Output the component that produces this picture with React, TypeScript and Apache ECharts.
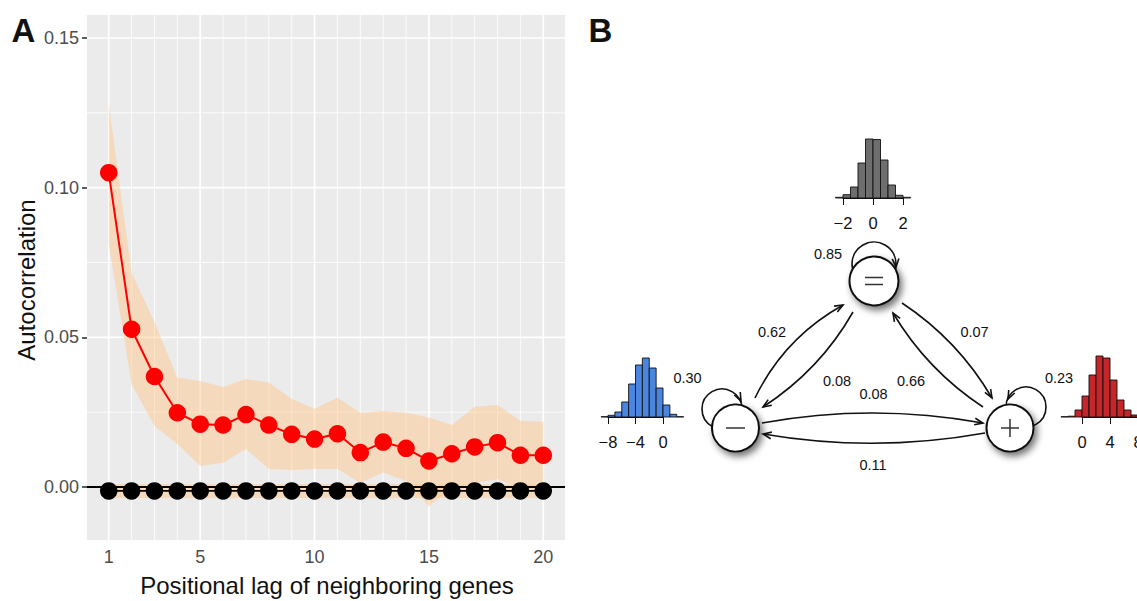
import React, { useEffect, useRef } from "react";
import * as echarts from "echarts";

// ---------- Panel A data ----------
const lags = [1, 2, 3, 4, 5, 6, 7, 8, 9, 10, 11, 12, 13, 14, 15, 16, 17, 18, 19, 20];
const redAutocorr = [0.105, 0.0527, 0.0369, 0.0248, 0.021, 0.0207, 0.0242, 0.0207, 0.0176, 0.016, 0.0178, 0.0115, 0.015, 0.0129, 0.0087, 0.0111, 0.0134, 0.0148, 0.0106, 0.0106];
const redUpper = [0.128, 0.0716, 0.055, 0.0365, 0.0354, 0.0334, 0.0361, 0.0349, 0.0294, 0.0261, 0.0298, 0.0248, 0.0254, 0.0248, 0.0232, 0.0207, 0.0268, 0.0274, 0.0221, 0.0218];
const redLower = [0.0813, 0.0344, 0.0204, 0.0144, 0.007, 0.0081, 0.0127, 0.006, 0.0057, 0.006, 0.006, 0.0014, 0.0048, 0.002, -0.0064, -0.0002, 0.0014, 0.0026, -0.0002, 0.0];
const blackAutocorr = [-0.0013, -0.0013, -0.0013, -0.0013, -0.0013, -0.0013, -0.0013, -0.0013, -0.0013, -0.0013, -0.0013, -0.0013, -0.0013, -0.0013, -0.0013, -0.0013, -0.0013, -0.0013, -0.0013, -0.0013];
const blackUpper = [0.001, 0.001, 0.001, 0.001, 0.001, 0.001, 0.001, 0.001, 0.001, 0.001, 0.001, 0.001, 0.001, 0.001, 0.001, 0.001, 0.001, 0.001, 0.001, 0.001];
const blackLower = [-0.0037, -0.0037, -0.0037, -0.0037, -0.0037, -0.0037, -0.0037, -0.0037, -0.0037, -0.0037, -0.0037, -0.0037, -0.0037, -0.0037, -0.0037, -0.0037, -0.0037, -0.0037, -0.0037, -0.0037];
const yTicks = [0, 0.05, 0.1, 0.15];
const yMinor = [0.025, 0.075, 0.125];
const xTicks = [1, 5, 10, 15, 20];
const xMinor = [2, 3, 4, 6, 7, 8, 9, 11, 12, 13, 14, 16, 17, 18, 19];

// ---------- Panel B data ----------
const grayEdges = [-2.5, -2, -1.5, -1, -0.5, 0, 0.5, 1, 1.5, 2, 2.5];
const grayFreq = [0.7, 3.3, 11, 35, 59, 58.5, 38, 13, 2.7, 0.7];
const grayTicks = [-2, 0, 2];
const blueEdges = [-9, -8, -7, -6, -5, -4, -3, -2, -1, 0, 1, 2, 3];
const blueFreq = [0.3, 1.7, 5, 15, 33, 52, 59, 49, 29, 12, 2.7, 0.3];
const blueTicks = [-8, -4, 0];
const redEdges = [-3, -2, -1, 0, 1, 2, 3, 4, 5, 6, 7, 8, 9];
const redFreq = [0.3, 0.8, 7, 21, 42, 61, 59, 37, 17, 7, 2, 0.3];
const redTicks = [0, 4, 8];
const selfLoops = [0.85, 0.3, 0.23]; // =, −, +
const transitions = ["0.62", "0.08", "0.07", "0.66", "0.08", "0.11"]; // −→=, =→−, =→+, +→=, −→+, +→−

const FONT = "'Liberation Sans', Arial, Helvetica, sans-serif";
const RIBBON = "rgba(255, 198, 135, 0.47)";

function head(tx: number, ty: number, dx: number, dy: number, L = 9, a = 0.38) {
  const n = Math.hypot(dx, dy);
  const bx = -dx / n, by = -dy / n;
  const c = Math.cos(a), s = Math.sin(a);
  return [
    [tx + L * (bx * c - by * s), ty + L * (bx * s + by * c)],
    [tx, ty],
    [tx + L * (bx * c + by * s), ty + L * (-bx * s + by * c)],
  ];
}

function edge(p0: number[], c: number[], p1: number[]) {
  return [
    {
      type: "bezierCurve",
      shape: { x1: p0[0], y1: p0[1], x2: p1[0], y2: p1[1], cpx1: c[0], cpy1: c[1] },
      style: { stroke: "#111", lineWidth: 1.6, fill: null },
      z: 10,
    },
    {
      type: "polyline",
      shape: { points: head(p1[0], p1[1], p1[0] - c[0], p1[1] - c[1]) },
      style: { stroke: "#111", lineWidth: 1.6, fill: null },
      z: 10,
    },
  ];
}

function txt(t: string, x: number, y: number, size: number, extra: any = {}) {
  return {
    type: "text",
    x,
    y,
    z: 20,
    ...extra,
    style: {
      text: t,
      x: 0,
      y: 0,
      fill: "#111",
      font: `${extra.weight || "normal"} ${size}px ${FONT}`,
      textAlign: "center",
      textVerticalAlign: "middle",
      verticalAlign: "middle",
    },
  };
}

function histSeries(edges: number[], freq: number[], idx: number, fill: string) {
  return {
    type: "custom",
    xAxisIndex: idx,
    yAxisIndex: idx,
    clip: false,
    z: 5,
    encode: { x: 0, y: 1 },
    data: freq.map((f, i) => [(edges[i] + edges[i + 1]) / 2, f]),
    renderItem: (params: any, api: any) => {
      const i = params.dataIndex;
      const p0 = api.coord([edges[i], 0]);
      const p1 = api.coord([edges[i + 1], freq[i]]);
      return {
        type: "rect",
        shape: { x: p0[0], y: p1[1], width: p1[0] - p0[0], height: p0[1] - p1[1] },
        style: { fill, stroke: "#111", lineWidth: 0.9 },
      };
    },
  };
}

function histAxis(idx: number, min: number, max: number, interval: number) {
  return {
    type: "value",
    gridIndex: idx,
    min,
    max,
    interval,
    offset: 5,
    axisLine: { show: true, lineStyle: { color: "#111", width: 1 } },
    axisTick: { show: true, length: 7, lineStyle: { color: "#111", width: 1 } },
    splitLine: { show: false },
    axisLabel: {
      margin: 11,
      fontSize: 16.5,
      fontFamily: FONT,
      color: "#111",
      formatter: (v: number) => (v < 0 ? "\u2212" + Math.abs(v) : String(v)),
    },
  };
}

export default function App() {
  const ref = useRef<HTMLDivElement>(null);
  useEffect(() => {
    if (!ref.current) return;
    document.body.style.overflow = "hidden";
    const chart = echarts.init(ref.current, undefined, { renderer: "svg" });

    const gridLines = {
      type: "custom",
      z: 1,
      silent: true,
      encode: { x: 0, y: 1 },
      data: [
        ...yTicks.map((v) => [1, v, 1.7, 0]),
        ...yMinor.map((v) => [1, v, 0.8, 0]),
        ...xTicks.map((v) => [v, 0, 1.7, 1]),
        ...xMinor.map((v) => [v, 0, 0.8, 1]),
      ],
      renderItem: (params: any, api: any) => {
        const cs = params.coordSys;
        const p = api.coord([api.value(0), api.value(1)]);
        const vertical = api.value(3) === 1;
        return {
          type: "line",
          shape: vertical
            ? { x1: p[0], y1: cs.y, x2: p[0], y2: cs.y + cs.height }
            : { x1: cs.x, y1: p[1], x2: cs.x + cs.width, y2: p[1] },
          style: { stroke: "#ffffff", lineWidth: api.value(2) },
        };
      },
    };

    const ribbon = (upper: number[], lower: number[], z: number) => ({
      type: "custom",
      z,
      silent: true,
      encode: { x: 0, y: 1 },
      data: lags.map((l, i) => [l, upper[i]]),
      renderItem: (params: any, api: any) => {
        if (params.dataIndex !== 0) return null;
        const pts: number[][] = [];
        lags.forEach((l, i) => pts.push(api.coord([l, upper[i]])));
        for (let i = lags.length - 1; i >= 0; i--) pts.push(api.coord([lags[i], lower[i]]));
        return { type: "polygon", shape: { points: pts }, style: { fill: RIBBON } };
      },
    });

    const zeroLine = {
      type: "custom",
      z: 3,
      silent: true,
      encode: { x: 0, y: 1 },
      data: [[1, 0]],
      renderItem: (params: any, api: any) => {
        const cs = params.coordSys;
        const p = api.coord([1, 0]);
        return {
          type: "line",
          shape: { x1: cs.x, y1: p[1], x2: cs.x + cs.width, y2: p[1] },
          style: { stroke: "#000", lineWidth: 1.8 },
        };
      },
    };

    const graphic: any[] = [];
    // panel labels & axis titles
    graphic.push(txt("A", 23.5, 30, 33, { weight: "bold" }));
    graphic.push(txt("B", 600.5, 30, 33, { weight: "bold" }));
    graphic.push(txt("Positional lag of neighboring genes", 327, 585, 24));
    graphic.push(txt("Autocorrelation", 26, 280, 24, { rotation: Math.PI / 2 }));

    // self loops
    const loops = [
      { c: [874, 264], r: 22, tip: [896, 267], d: [0.05, 1] },
      { c: [722, 409], r: 20, tip: [741, 401], d: [0.45, 0.9] },
      { c: [1026, 407], r: 20, tip: [1008, 399], d: [-0.45, 0.9] },
    ];
    loops.forEach((lp) => {
      graphic.push({
        type: "circle",
        shape: { cx: lp.c[0], cy: lp.c[1], r: lp.r },
        style: { stroke: "#111", lineWidth: 1.6, fill: null },
        z: 10,
      });
      graphic.push({
        type: "polyline",
        shape: { points: head(lp.tip[0], lp.tip[1], lp.d[0], lp.d[1]) },
        style: { stroke: "#111", lineWidth: 1.6, fill: null },
        z: 12,
      });
    });

    // edges
    graphic.push(...edge([755, 398], [784, 338], [843, 305]));
    graphic.push(...edge([853, 312], [820, 370], [763, 407]));
    graphic.push(...edge([902, 303], [958, 340], [992, 398]));
    graphic.push(...edge([983, 407], [927, 370], [893, 313]));
    graphic.push(...edge([762, 423], [872, 403], [983, 423]));
    graphic.push(...edge([985, 433], [874, 453], [763, 434]));

    // nodes
    const nodes = [
      { c: [874, 281], r: 24.5 },
      { c: [735.5, 428], r: 23.5 },
      { c: [1010, 428], r: 23.5 },
    ];
    nodes.forEach((n) => {
      graphic.push({
        type: "circle",
        shape: { cx: n.c[0], cy: n.c[1], r: n.r },
        style: {
          fill: "#fff",
          stroke: "#111",
          lineWidth: 2,
          shadowBlur: 7,
          shadowColor: "rgba(0,0,0,0.55)",
          shadowOffsetX: 3,
          shadowOffsetY: 4,
        },
        z: 14,
      });
    });
    const sym = (x1: number, y1: number, x2: number, y2: number) => ({
      type: "line",
      shape: { x1, y1, x2, y2 },
      style: { stroke: "#333", lineWidth: 1.5 },
      z: 16,
    });
    graphic.push(sym(865, 277.5, 883, 277.5), sym(865, 284.5, 883, 284.5));
    graphic.push(sym(726, 428, 745, 428));
    graphic.push(sym(1001, 428, 1019, 428), sym(1010, 419, 1010, 437));

    // labels
    graphic.push(txt(selfLoops[0].toFixed(2), 828, 254, 14.5));
    graphic.push(txt(selfLoops[1].toFixed(2), 687.5, 378, 14.5));
    graphic.push(txt(selfLoops[2].toFixed(2), 1059, 378, 14.5));
    const labelPos = [
      [772, 332],
      [837, 381],
      [974.5, 332],
      [911, 381],
      [873.5, 393.5],
      [873, 464.5],
    ];
    transitions.forEach((t, i) => graphic.push(txt(t, labelPos[i][0], labelPos[i][1], 14.5)));

    chart.setOption({
      animation: false,
      backgroundColor: "#ffffff",
      textStyle: { fontFamily: FONT },
      graphic,
      grid: [
        { left: 87, top: 15, width: 478, height: 525, show: true, backgroundColor: "#EBEBEB", borderWidth: 0 },
        { left: 843, top: 138, width: 60, height: 60 },
        { left: 608, top: 357, width: 55, height: 60 },
        { left: 1082, top: 357, width: 56, height: 60 },
      ],
      xAxis: [
        {
          type: "value",
          gridIndex: 0,
          min: 0.05,
          max: 20.95,
          axisLine: { show: false },
          splitLine: { show: false },
          axisTick: { show: true, length: 5, customValues: xTicks, lineStyle: { color: "#333", width: 1.6 } },
          axisLabel: { customValues: xTicks, margin: 8, fontSize: 18, color: "#4D4D4D", fontFamily: FONT },
        },
        histAxis(1, -2, 2, 2),
        histAxis(2, -8, 0, 4),
        histAxis(3, 0, 8, 4),
      ],
      yAxis: [
        {
          type: "value",
          gridIndex: 0,
          min: -0.01771,
          max: 0.15768,
          axisLine: { show: false },
          splitLine: { show: false },
          axisTick: { show: true, length: 5, customValues: yTicks, lineStyle: { color: "#333", width: 1.6 } },
          axisLabel: {
            customValues: yTicks,
            margin: 8,
            fontSize: 18,
            color: "#4D4D4D",
            fontFamily: FONT,
            formatter: (v: number) => v.toFixed(2),
          },
        },
        { type: "value", gridIndex: 1, min: 0, max: 60, show: false },
        { type: "value", gridIndex: 2, min: 0, max: 60, show: false },
        { type: "value", gridIndex: 3, min: 0, max: 60, show: false },
      ],
      series: [
        gridLines,
        ribbon(redUpper, redLower, 2),
        ribbon(blackUpper, blackLower, 2),
        zeroLine,
        {
          type: "line",
          z: 4,
          data: lags.map((l, i) => [l, redAutocorr[i]]),
          symbol: "circle",
          symbolSize: 17.5,
          itemStyle: { color: "#FF0000" },
          lineStyle: { color: "#FF0000", width: 2 },
        },
        {
          type: "line",
          z: 5,
          data: lags.map((l, i) => [l, blackAutocorr[i]]),
          symbol: "circle",
          symbolSize: 17.5,
          itemStyle: { color: "#000000" },
          lineStyle: { color: "#000000", width: 1.8 },
        },
        histSeries(grayEdges, grayFreq, 1, "#6E6E6E"),
        histSeries(blueEdges, blueFreq, 2, "#4A86E0"),
        histSeries(redEdges, redFreq, 3, "#C4262A"),
      ],
    });
    return () => chart.dispose();
  }, []);
  return (
    <div
      ref={ref}
      style={{ position: "fixed", left: 0, top: 0, width: 1160, height: 601, background: "#fff" }}
    />
  );
}
